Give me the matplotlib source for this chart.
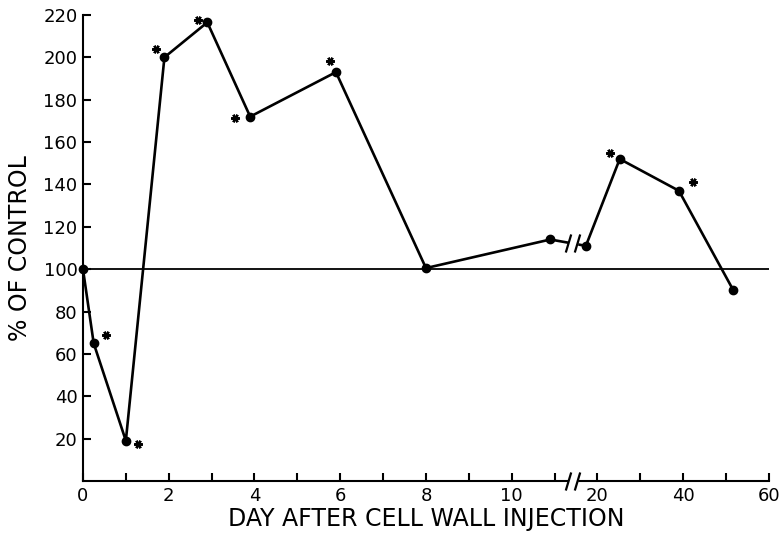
import numpy as np
import matplotlib
matplotlib.use('Agg')
import matplotlib.pyplot as plt
import matplotlib.transforms as mtransforms

# days after injection and response (% of control)
days = [0, 0.25, 1, 1.9, 2.9, 3.9, 5.9, 8, 10.9, 17.3, 25.2, 39, 51.7]
pct = [100, 65, 19, 200, 216.5, 172, 193, 100.5, 114, 111, 152, 137, 90]
# which points carry a significance star, and where the star sits (points)
star_idx = [1, 2, 3, 4, 5, 6, 10, 11]
star_dx = [9, 9, -6, -7, -11, -4, -7, 10]
star_dy = [6, -2, 6, 2, -1, 8, 4, 6]

major_x = [0, 2, 4, 6, 8, 10, 20, 40, 60]
minor_x = [1, 3, 5, 7, 9, 11, 30, 50]
y_ticks = [20, 40, 60, 80, 100, 120, 140, 160, 180, 200, 220]
break_x = 11.42


def fwd(x):
    x = np.asarray(x, float)
    return np.where(x <= 11.5, x,
                    np.where(x >= 17, 12 + (x - 20) / 10,
                             11.5 + (x - 11.5) * 0.2 / 5.5))


def inv(u):
    u = np.asarray(u, float)
    return np.where(u <= 11.5, u,
                    np.where(u >= 11.7, 20 + (u - 12) * 10,
                             11.5 + (u - 11.5) * 5.5 / 0.2))


def draw_break(ax, fig, x, y, trans):
    slash = [(-0.3, -1), (0.3, 1)]
    gap = mtransforms.offset_copy(trans, fig=fig, x=0, y=0, units='points')
    ax.plot([x], [y], marker='s', ms=6, color='white', mec='white',
            transform=gap, zorder=5, clip_on=False)
    for dx in (-3.5, 3.5):
        t = mtransforms.offset_copy(trans, fig=fig, x=dx, y=0, units='points')
        ax.plot([x], [y], marker=slash, ms=13, mew=1.6, color='black',
                transform=t, zorder=6, clip_on=False)


fig = plt.figure(figsize=(7.82, 5.34), dpi=100)
ax = fig.add_axes([0.1061, 0.0993, 0.8772, 0.8727])
ax.set_xscale('function', functions=(fwd, inv))
ax.set_xlim(0, 60)
ax.set_ylim(0, 220)

ax.axhline(100, color='black', lw=1.3, zorder=1)
ax.plot(days, pct, color='black', lw=1.9, marker='o', ms=6, zorder=3,
        clip_on=False)

for i, dx, dy in zip(star_idx, star_dx, star_dy):
    t = mtransforms.offset_copy(ax.transData, fig=fig, x=dx, y=dy,
                                units='points')
    ax.plot([days[i]], [pct[i]], marker=(6, 2, 90), ms=6, mew=1.7,
            color='black', transform=t, zorder=4)

# break marks on the curve and on the x axis
yb = np.interp(fwd(break_x), fwd(days), pct)
draw_break(ax, fig, break_x, yb, ax.transData)
draw_break(ax, fig, break_x, 0, ax.get_xaxis_transform())

ax.set_xticks(major_x)
ax.set_xticklabels([str(v) for v in major_x])
ax.set_xticks(minor_x, minor=True)
ax.set_yticks(y_ticks)
ax.set_yticklabels([str(v) for v in y_ticks])

for s in ('top', 'right'):
    ax.spines[s].set_visible(False)
for s in ('left', 'bottom'):
    ax.spines[s].set_linewidth(1.5)

ax.tick_params(axis='both', which='both', direction='in', width=1.5,
               labelsize=13, pad=4)
ax.tick_params(axis='both', which='major', length=6)
ax.tick_params(axis='x', which='minor', length=6)

ax.set_xlabel('DAY AFTER CELL WALL INJECTION', fontsize=17, labelpad=2)
ax.set_ylabel('% OF CONTROL', fontsize=17, labelpad=8)

fig.savefig('out.png', dpi=100)
